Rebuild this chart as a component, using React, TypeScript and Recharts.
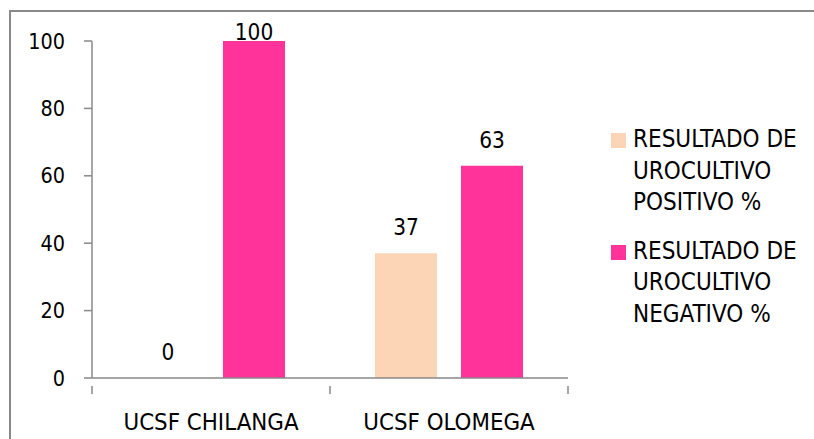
import { BarChart, Bar, XAxis, YAxis, LabelList } from "recharts";

const sites = ["UCSF CHILANGA", "UCSF OLOMEGA"];
const positivo = [0, 37];
const negativo = [100, 63];
const seriesNames = [
  "RESULTADO DE UROCULTIVO POSITIVO %",
  "RESULTADO DE UROCULTIVO NEGATIVO %",
];
const seriesColors = ["#FBD5B5", "#FF3399"];
const yTicks = [0, 20, 40, 60, 80, 100];

const data = sites.map((site, i) => ({
  site,
  pos: positivo[i],
  neg: negativo[i],
}));

const COND = "'DejaVu Sans Condensed', 'DejaVu Sans', sans-serif";
const AXIS = "#898989";

const ValueLabel = (props: any) => {
  const { x, y, width, value } = props;
  // Excel keeps the label inside the plot area when the bar hits the top
  const ty = Math.max(y - 18, 40);
  return (
    <text
      x={x + width / 2}
      y={ty}
      textAnchor="middle"
      fontFamily={COND}
      fontSize={22.4}
      style={{ fontStretch: "condensed" }}
      fill="#000"
    >
      {value}
    </text>
  );
};

const SiteTick = (props: any) => {
  const { x, y, payload, index, visibleTicksCount } = props;
  const half = payload.offset ?? 119;
  const last = index === visibleTicksCount - 1;
  return (
    <g>
      <line x1={x - half} y1={y} x2={x - half} y2={y + 8} stroke={AXIS} strokeWidth={1.5} />
      {last && (
        <line x1={x + half} y1={y} x2={x + half} y2={y + 8} stroke={AXIS} strokeWidth={1.5} />
      )}
      <text
        x={x}
        y={y + 44}
        textAnchor="middle"
        fontFamily={COND}
        fontSize={23.8}
        style={{ fontStretch: "condensed" }}
        fill="#000"
      >
        {payload.value}
      </text>
    </g>
  );
};

const Legendish = () => (
  <div
    style={{
      position: "absolute",
      left: 611,
      top: 124,
      fontFamily: COND,
      fontStretch: "condensed",
    }}
  >
    {seriesNames.map((name, i) => (
      <div key={name} style={{ display: "flex", marginBottom: 17 }}>
        <div
          style={{
            width: 15,
            height: 15,
            marginTop: 9,
            background: seriesColors[i],
            flexShrink: 0,
          }}
        />
        <div style={{ marginLeft: 7, width: 180, fontSize: 24, lineHeight: "31.5px", color: "#000" }}>
          {name}
        </div>
      </div>
    ))}
  </div>
);

export default function App() {
  return (
    <div
      style={{
        position: "fixed",
        left: 0,
        top: 0,
        width: 814,
        height: 439,
        overflow: "hidden",
        background: "#fff",
      }}
    >
      <div
        style={{
          position: "absolute",
          left: 9,
          top: 10,
          width: 1000,
          height: 1000,
          borderTop: `2px solid ${AXIS}`,
          borderLeft: `2px solid ${AXIS}`,
        }}
      />
      <BarChart
        width={814}
        height={439}
        data={data}
        margin={{ top: 41, right: 246, bottom: 0, left: 0 }}
        barSize={62}
        barGap={24}
        style={{ position: "absolute", left: 0, top: 0 }}
      >
        <XAxis
          dataKey="site"
          height={61}
          axisLine={{ stroke: AXIS, strokeWidth: 1.5 }}
          tickLine={false}
          tick={<SiteTick />}
          interval={0}
        />
        <YAxis
          width={92}
          domain={[0, 100]}
          ticks={yTicks}
          axisLine={{ stroke: AXIS, strokeWidth: 1.5 }}
          tickLine={{ stroke: AXIS, strokeWidth: 1.5 }}
          tickSize={8}
          tickMargin={19}
          tick={{ fontFamily: COND, fontSize: 21.4, fill: "#000", style: { fontStretch: "condensed" } }}
        />
        <Bar
          dataKey="pos"
          name={seriesNames[0]}
          fill={seriesColors[0]}
          minPointSize={0.01}
          isAnimationActive={false}
        >
          <LabelList dataKey="pos" content={<ValueLabel />} />
        </Bar>
        <Bar dataKey="neg" name={seriesNames[1]} fill={seriesColors[1]} isAnimationActive={false}>
          <LabelList dataKey="neg" content={<ValueLabel />} />
        </Bar>
      </BarChart>
      <Legendish />
    </div>
  );
}
